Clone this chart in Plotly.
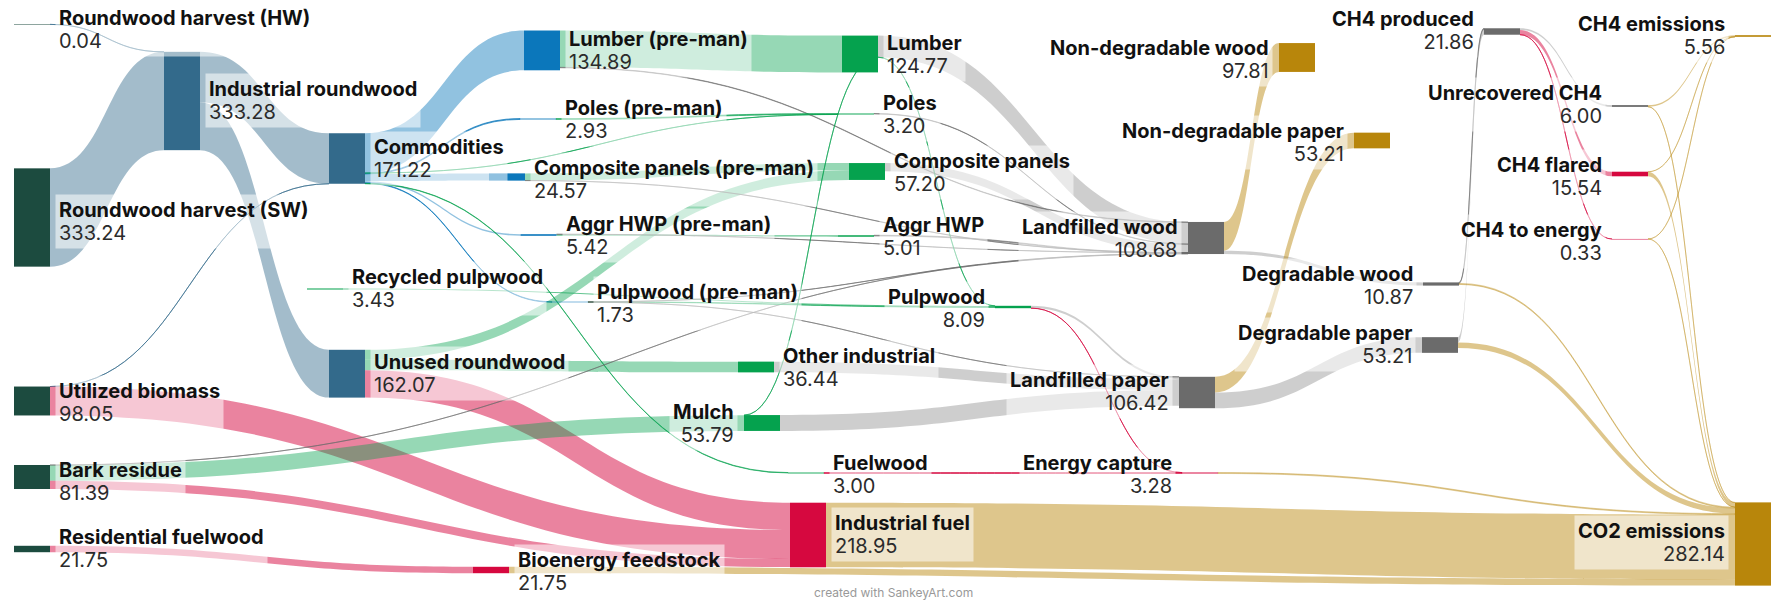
import plotly.graph_objects as go

# ------------------------------------------------------------------ data
node_names = [
    "Roundwood harvest (HW)", "Roundwood harvest (SW)", "Utilized biomass", "Bark residue",
    "Residential fuelwood", "Industrial roundwood", "Commodities", "Unused roundwood",
    "Recycled pulpwood", "Lumber (pre-man)", "Poles (pre-man)", "Composite panels (pre-man)",
    "Aggr HWP (pre-man)", "Pulpwood (pre-man)", "Lumber", "Poles", "Composite panels",
    "Aggr HWP", "Pulpwood", "Other industrial", "Mulch", "Fuelwood", "Industrial fuel",
    "Bioenergy feedstock", "Landfilled wood", "Landfilled paper", "Energy capture",
    "Non-degradable wood", "Non-degradable paper", "Degradable wood", "Degradable paper",
    "CH4 produced", "Unrecovered CH4", "CH4 flared", "CH4 to energy", "CH4 emissions",
    "CO2 emissions",
]
node_totals = [
    "0.04", "333.24", "98.05", "81.39", "21.75", "333.28", "171.22", "162.07", "3.43",
    "134.89", "2.93", "24.57", "5.42", "1.73", "124.77", "3.20", "57.20", "5.01", "8.09",
    "36.44", "53.79", "3.00", "218.95", "21.75", "108.68", "106.42", "3.28", "97.81",
    "53.21", "10.87", "53.21", "21.86", "6.00", "15.54", "0.33", "5.56", "282.14",
]

link_sources = [
    "Roundwood harvest (HW)", "Roundwood harvest (SW)", "Utilized biomass",
    "Industrial roundwood", "Industrial roundwood",
    "Commodities", "Commodities", "Commodities", "Commodities", "Commodities",
    "Commodities", "Commodities",
    "Unused roundwood", "Unused roundwood", "Unused roundwood",
    "Utilized biomass", "Bark residue", "Bark residue", "Bark residue",
    "Residential fuelwood", "Recycled pulpwood",
    "Lumber (pre-man)", "Lumber (pre-man)", "Poles (pre-man)",
    "Composite panels (pre-man)", "Composite panels (pre-man)",
    "Aggr HWP (pre-man)", "Aggr HWP (pre-man)",
    "Pulpwood (pre-man)", "Pulpwood (pre-man)", "Pulpwood (pre-man)",
    "Lumber", "Lumber", "Lumber", "Poles", "Composite panels", "Aggr HWP",
    "Other industrial", "Mulch", "Pulpwood", "Pulpwood", "Fuelwood",
    "Industrial fuel", "Bioenergy feedstock", "Energy capture",
    "Landfilled wood", "Landfilled wood", "Landfilled paper", "Landfilled paper",
    "Degradable wood", "Degradable wood", "Degradable paper", "Degradable paper",
    "CH4 produced", "CH4 produced", "CH4 produced",
    "Unrecovered CH4", "Unrecovered CH4", "CH4 flared", "CH4 flared",
    "CH4 to energy", "CH4 to energy",
]
link_targets = [
    "Industrial roundwood", "Industrial roundwood", "Commodities",
    "Commodities", "Unused roundwood",
    "Lumber (pre-man)", "Poles (pre-man)", "Composite panels (pre-man)",
    "Aggr HWP (pre-man)", "Pulpwood (pre-man)", "Poles", "Fuelwood",
    "Composite panels", "Other industrial", "Industrial fuel",
    "Industrial fuel", "Mulch", "Industrial fuel", "Landfilled wood",
    "Bioenergy feedstock", "Pulpwood",
    "Lumber", "Landfilled wood", "Poles",
    "Composite panels", "Landfilled wood",
    "Aggr HWP", "Landfilled wood",
    "Pulpwood", "Landfilled wood", "Landfilled paper",
    "Landfilled wood", "Mulch", "Pulpwood", "Landfilled wood", "Landfilled wood",
    "Landfilled wood",
    "Landfilled paper", "Landfilled paper", "Landfilled paper", "Energy capture",
    "Energy capture",
    "CO2 emissions", "CO2 emissions", "CO2 emissions",
    "Non-degradable wood", "Degradable wood", "Non-degradable paper", "Degradable paper",
    "CH4 produced", "CO2 emissions", "CH4 produced", "CO2 emissions",
    "Unrecovered CH4", "CH4 flared", "CH4 to energy",
    "CH4 emissions", "CO2 emissions", "CH4 emissions", "CO2 emissions",
    "CH4 emissions", "CO2 emissions",
]
link_values = [
    0.04, 333.24, 0.01,
    171.21, 162.07,
    134.89, 2.93, 24.57, 5.42, 1.73, 0.27, 1.41,
    33.13, 36.44, 92.50,
    98.04, 53.39, 27.70, 0.30,
    21.75, 3.43,
    124.77, 1.50, 2.93,
    24.07, 0.50,
    5.01, 0.41,
    1.23, 0.30, 0.20,
    73.00, 0.40, 0.50, 1.20, 28.00, 2.50,
    36.44, 53.79, 7.81, 0.28, 3.00,
    218.95, 21.75, 3.28,
    97.81, 10.87, 53.21, 53.21,
    3.36, 3.35, 18.50, 18.50,
    6.00, 15.54, 0.33,
    5.40, 0.60, 0.155, 15.385,
    0.005, 0.325,
]

# ------------------------------------------------------------------ layout / style
W, H = 1776, 603
KY = 0.295          # pixels per unit in the reference
THICK = 36
PAD = 8

COLORS = {
    "src": (28, 75, 63), "rw": (51, 106, 139), "pre": (11, 119, 187),
    "prod": (5, 162, 78), "fuel": (214, 8, 63), "lf": (107, 107, 107),
    "emit": (184, 134, 11),
}
LINK_ALPHA = {"src": 0.4, "rw": 0.45, "pre": 0.45, "prod": 0.42, "fuel": 0.5,
              "lf": 0.33, "emit": 0.47}
THIN_ALPHA = {"src": 0.6, "rw": 0.65, "pre": 0.7, "prod": 0.62, "fuel": 0.65,
              "lf": 0.58, "emit": 0.36}

# name: (center x px, center y px, colour group, label side, label centre y px)
node_layout = {
    "Roundwood harvest (HW)": (32, 24.4, "src", "r", 29.5),
    "Roundwood harvest (SW)": (32, 217.5, "src", "r", 221),
    "Utilized biomass": (32, 401, "src", "r", 402),
    "Bark residue": (32, 477, "src", "r", 481),
    "Residential fuelwood": (32, 549, "src", "r", 548),
    "Industrial roundwood": (182, 101, "rw", "r", 100),
    "Commodities": (347, 158.5, "rw", "r", 158.6),
    "Unused roundwood": (347, 373.7, "rw", "r", 374),
    "Recycled pulpwood": (325, 289, "prod", "r", 289),
    "Lumber (pre-man)": (542, 50.4, "pre", "r", 51),
    "Poles (pre-man)": (538, 119, "pre", "r", 119.5),
    "Composite panels (pre-man)": (507, 177, "pre", "r", 179),
    "Aggr HWP (pre-man)": (538.5, 235, "pre", "r", 235.6),
    "Pulpwood (pre-man)": (570, 302, "pre", "r", 303.6),
    "Lumber": (860, 54, "prod", "r", 54),
    "Poles": (856, 114, "prod", "r", 114),
    "Composite panels": (867, 171.5, "prod", "r", 172),
    "Aggr HWP": (856, 236, "prod", "r", 236),
    "Pulpwood": (1013, 307, "prod", "l", 308),
    "Other industrial": (756, 367, "prod", "r", 367),
    "Mulch": (762, 423, "prod", "l", 423.6),
    "Fuelwood": (806, 473, "prod", "r", 474.6),
    "Industrial fuel": (808, 535, "fuel", "r", 534.6),
    "Bioenergy feedstock": (491, 570, "fuel", "r", 571),
    "Landfilled wood": (1206, 238, "lf", "l", 238),
    "Landfilled paper": (1197, 392.5, "lf", "l", 391),
    "Energy capture": (1200, 473, "fuel", "l", 474.6),
    "Non-degradable wood": (1297, 57.5, "emit", "l", 60),
    "Non-degradable paper": (1372, 140.5, "emit", "l", 142),
    "Degradable wood": (1441, 284, "lf", "l", 285.5),
    "Degradable paper": (1440, 345, "lf", "l", 345),
    "CH4 produced": (1502, 31.5, "lf", "l", 31),
    "Unrecovered CH4": (1630, 106, "lf", "l", 105),
    "CH4 flared": (1630, 174, "fuel", "l", 176),
    "CH4 to energy": (1630, 239, "fuel", "l", 241),
    "CH4 emissions": (1753, 36, "emit", "l", 36),
    "CO2 emissions": (1753, 544, "emit", "l", 542.6),
}

# ------------------------------------------------------------------ build
idx = {n: i for i, n in enumerate(node_names)}
N = len(node_names)
src = [idx[s] for s in link_sources]
tgt = [idx[t] for t in link_targets]
vals = list(link_values)

# replicate d3-sankey column assignment to reach the reference's vertical scale
outs = [[] for _ in range(N)]
ins = [[] for _ in range(N)]
for s, t, v in zip(src, tgt, vals):
    outs[s].append((t, v))
    ins[t].append((s, v))
indeg = [len(i) for i in ins]
order, stack = [], [i for i in range(N) if indeg[i] == 0]
while stack:
    u = stack.pop()
    order.append(u)
    for t, _ in outs[u]:
        indeg[t] -= 1
        if indeg[t] == 0:
            stack.append(t)
depth = [0] * N
for u in order:
    for t, _ in outs[u]:
        depth[t] = max(depth[t], depth[u] + 1)
nlayers = max(depth) + 1
col = [depth[i] if outs[i] else nlayers - 1 for i in range(N)]
nval = [max(sum(v for _, v in ins[i]), sum(v for _, v in outs[i])) for i in range(N)]
csum, ccnt = {}, {}
for i in range(N):
    csum[col[i]] = csum.get(col[i], 0) + nval[i]
    ccnt[col[i]] = ccnt.get(col[i], 0) + 1
spacer = min((H - ccnt[0] * PAD) / KY - csum[0],
             (H - ccnt[nlayers - 1] * PAD) / KY - csum[nlayers - 1])


def rgba(c, a):
    return f"rgba({c[0]},{c[1]},{c[2]},{a})"


node_x, node_y, node_col = [], [], []
for n in node_names:
    cx, cy, grp, _, _ = node_layout[n]
    node_x.append(cx / W)
    node_y.append(cy / H)
    node_col.append(rgba(COLORS[grp], 1))

link_col = []
for s, t, v in zip(src, tgt, vals):
    grp = node_layout[node_names[t]][2]
    a = LINK_ALPHA[grp] if v * KY >= 1.5 else THIN_ALPHA[grp]
    link_col.append(rgba(COLORS[grp], a))

# invisible spacer pair (keeps the library's vertical scale equal to the reference)
node_x += [0.5, 0.56]
node_y += [0.5, 0.5]
node_col += ["rgba(0,0,0,0)", "rgba(0,0,0,0)"]
src.append(N)
tgt.append(N + 1)
vals.append(spacer)
link_col.append("rgba(0,0,0,0)")

fig = go.Figure(go.Sankey(
    arrangement="fixed",
    domain=dict(x=[0, 1], y=[0, 1]),
    node=dict(
        label=[""] * (N + 2),
        x=node_x, y=node_y, pad=PAD, thickness=THICK,
        color=node_col, line=dict(color="rgba(0,0,0,0)", width=0),
        hoverinfo="none",
    ),
    link=dict(source=src, target=tgt, value=vals, color=link_col,
              line=dict(color="rgba(0,0,0,0)", width=0), hoverinfo="none"),
    textfont=dict(size=1, color="rgba(0,0,0,0)"),
))

BP = 3
FS = 20
annotations = []
for n, tot in zip(node_names, node_totals):
    cx, cy, grp, side, ly = node_layout[n]
    if side == "r":
        xpx = cx + THICK / 2 + 9 - BP - 1
        xa = "left"
    else:
        xpx = cx - THICK / 2 - 10 + BP + 1
        xa = "right"
    annotations.append(dict(
        x=xpx / W, y=1 - ly / H, xref="paper", yref="paper",
        xanchor=xa, yanchor="middle", align=xa, showarrow=False,
        text=(f"<span style='font-size:{FS}px'><b>{n}</b></span><br>"
              f"<span style='font-size:{FS}px;color:#2b2b2b'>{tot}</span>"),
        font=dict(family="Inter, Roboto, sans-serif", size=17.5, color="#111111"),
        bgcolor="rgba(255,255,255,0.55)", borderpad=BP,
    ))
annotations.append(dict(
    x=893 / W, y=1 - 592 / H, xref="paper", yref="paper", xanchor="center",
    yanchor="middle", showarrow=False, text="created with SankeyArt.com",
    font=dict(family="Inter, Roboto, sans-serif", size=12, color="#999999"),
))

fig.update_layout(
    width=W, height=H, margin=dict(l=0, r=0, t=0, b=0),
    paper_bgcolor="white", plot_bgcolor="white",
    annotations=annotations, showlegend=False,
)
fig.write_html("out.html", config={"displayModeBar": False},
               post_script="document.body.style.margin='0px';")
